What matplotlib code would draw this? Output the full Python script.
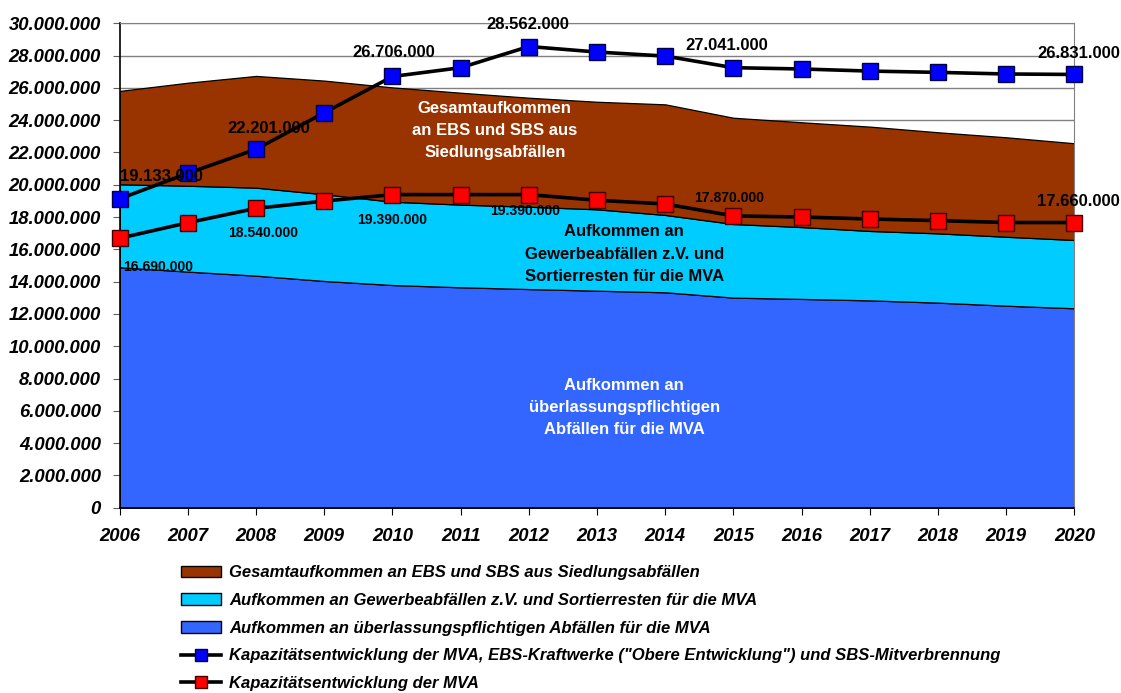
import numpy as np
import matplotlib.pyplot as plt
from matplotlib.patches import Patch
from matplotlib.lines import Line2D
from matplotlib.ticker import FuncFormatter, MultipleLocator

plt.rcParams['font.family'] = ['Liberation Sans', 'DejaVu Sans']

years = np.arange(2006, 2021)

# stacked areas (million t), layer thicknesses
ueberlassung = [14.89, 14.62, 14.37, 14.04, 13.79, 13.65, 13.54, 13.44, 13.34, 13.01, 12.93, 12.84, 12.70, 12.51, 12.35]
gewerbe = [5.14, 5.32, 5.45, 5.37, 5.16, 5.12, 5.10, 5.04, 4.79, 4.56, 4.45, 4.30, 4.29, 4.27, 4.23]
ebs_sbs = [5.78, 6.38, 6.92, 7.04, 7.08, 6.93, 6.75, 6.66, 6.85, 6.58, 6.49, 6.46, 6.26, 6.16, 5.99]

# capacity lines (million t)
kap_oben = [19.133, 20.71, 22.201, 24.46, 26.706, 27.25, 28.562, 28.22, 27.97, 27.25, 27.17, 27.04, 26.96, 26.86, 26.831]
kap_mva = [16.69, 17.65, 18.54, 18.99, 19.39, 19.39, 19.39, 19.04, 18.81, 18.07, 18.00, 17.88, 17.78, 17.66, 17.66]

# data labels: (year, text, offset in points, fontsize)
labels_oben = [(2006, '19.133.000', (30, 16), 12), (2008, '22.201.000', (9, 15), 12),
               (2010, '26.706.000', (1, 17), 12), (2012, '28.562.000', (-1, 16), 12),
               (2015, '27.041.000', (-5, 16), 12), (2020, '26.831.000', (3, 15), 12)]
labels_mva = [(2006, '16.690.000', (28, -21), 10), (2008, '18.540.000', (5, -18), 10),
              (2010, '19.390.000', (0, -18), 10), (2012, '19.390.000', (-3, -12), 10),
              (2015, '17.870.000', (-3, 13), 10), (2020, '17.660.000', (3, 15), 12)]

legend_labels = ['Gesamtaufkommen an EBS und SBS aus Siedlungsabfällen',
                 'Aufkommen an Gewerbeabfällen z.V. und Sortierresten für die MVA',
                 'Aufkommen an überlassungspflichtigen Abfällen für die MVA',
                 'Kapazitätsentwicklung der MVA, EBS-Kraftwerke ("Obere Entwicklung") und SBS-Mitverbrennung',
                 'Kapazitätsentwicklung der MVA']

c_blue, c_cyan, c_brown = '#3366FF', '#00CCFF', '#993300'

fig = plt.figure(figsize=(11.21, 6.93), dpi=100)
ax = fig.add_axes([0.1068, 0.2674, 0.8516, 0.699])

M = 1e6
ax.stackplot(years, np.array(ueberlassung) * M, np.array(gewerbe) * M, np.array(ebs_sbs) * M,
             colors=[c_blue, c_cyan, c_brown], edgecolor='black', linewidth=0.9, zorder=2)

ax.plot(years, np.array(kap_oben) * M, color='black', lw=2.6, marker='s', ms=11,
        mfc='#0000FF', mec='#000040', mew=1, zorder=4, clip_on=False)
ax.plot(years, np.array(kap_mva) * M, color='black', lw=2.6, marker='s', ms=11,
        mfc='#FF0000', mec='#400000', mew=1, zorder=4, clip_on=False)

for vals, labs in [(kap_oben, labels_oben), (kap_mva, labels_mva)]:
    for yr, txt, off, fs in labs:
        ax.annotate(txt, (yr, vals[yr - 2006] * M), xytext=off, textcoords='offset points',
                    ha='center', va='center', fontsize=fs, fontweight='bold', zorder=5,
                    annotation_clip=False)

ax.text(2011.5, 23.35 * M, 'Gesamtaufkommen\nan EBS und SBS aus\nSiedlungsabfällen', color='white',
        ha='center', va='center', fontsize=12, fontweight='bold', linespacing=1.6, zorder=3)
ax.text(2013.4, 15.7 * M, 'Aufkommen an\nGewerbeabfällen z.V. und\nSortierresten für die MVA', color='black',
        ha='center', va='center', fontsize=12, fontweight='bold', linespacing=1.6, zorder=3)
ax.text(2013.4, 6.2 * M, 'Aufkommen an\nüberlassungspflichtigen\nAbfällen für die MVA', color='white',
        ha='center', va='center', fontsize=12, fontweight='bold', linespacing=1.6, zorder=3)

ax.set_xlim(2006, 2020)
ax.set_ylim(0, 30 * M)
ax.set_xticks(years)
ax.yaxis.set_major_locator(MultipleLocator(2 * M))
ax.yaxis.set_major_formatter(FuncFormatter(lambda v, p: f'{int(round(v)):,}'.replace(',', '.')))

ax.grid(axis='y', color='#808080', lw=1)
ax.set_axisbelow(True)
for gl in ax.yaxis.get_gridlines():
    if abs(gl.get_ydata()[0] - 26 * M) < 1:
        gl.set_color('black')

for s in ['top', 'right']:
    ax.spines[s].set_color('#808080')
for s in ['left', 'bottom']:
    ax.spines[s].set_color('black')
    ax.spines[s].set_linewidth(1.2)

ax.tick_params(axis='y', direction='out', length=5, color='#606060', pad=8.5)
ax.tick_params(axis='x', direction='out', length=5, color='black', pad=9.5)
for lab in ax.get_xticklabels() + ax.get_yticklabels():
    lab.set_fontsize(13.3)
    lab.set_fontweight('bold')
    lab.set_fontstyle('italic')

handles = [Patch(facecolor=c_brown, edgecolor='black'),
           Patch(facecolor=c_cyan, edgecolor='black'),
           Patch(facecolor=c_blue, edgecolor='black'),
           Line2D([], [], color='black', lw=2.6, marker='s', ms=9, mfc='#0000FF', mec='#000040'),
           Line2D([], [], color='black', lw=2.6, marker='s', ms=9, mfc='#FF0000', mec='#400000')]
fig.legend(handles, legend_labels, loc='upper left', bbox_to_anchor=(0.154, 1 - 557 / 693),
           frameon=False, borderpad=0, handlelength=2.4, handleheight=0.7, handletextpad=0.5,
           labelspacing=0.76, prop={'size': 12.0, 'weight': 'bold', 'style': 'italic'})

fig.savefig('out.png', dpi=100)
